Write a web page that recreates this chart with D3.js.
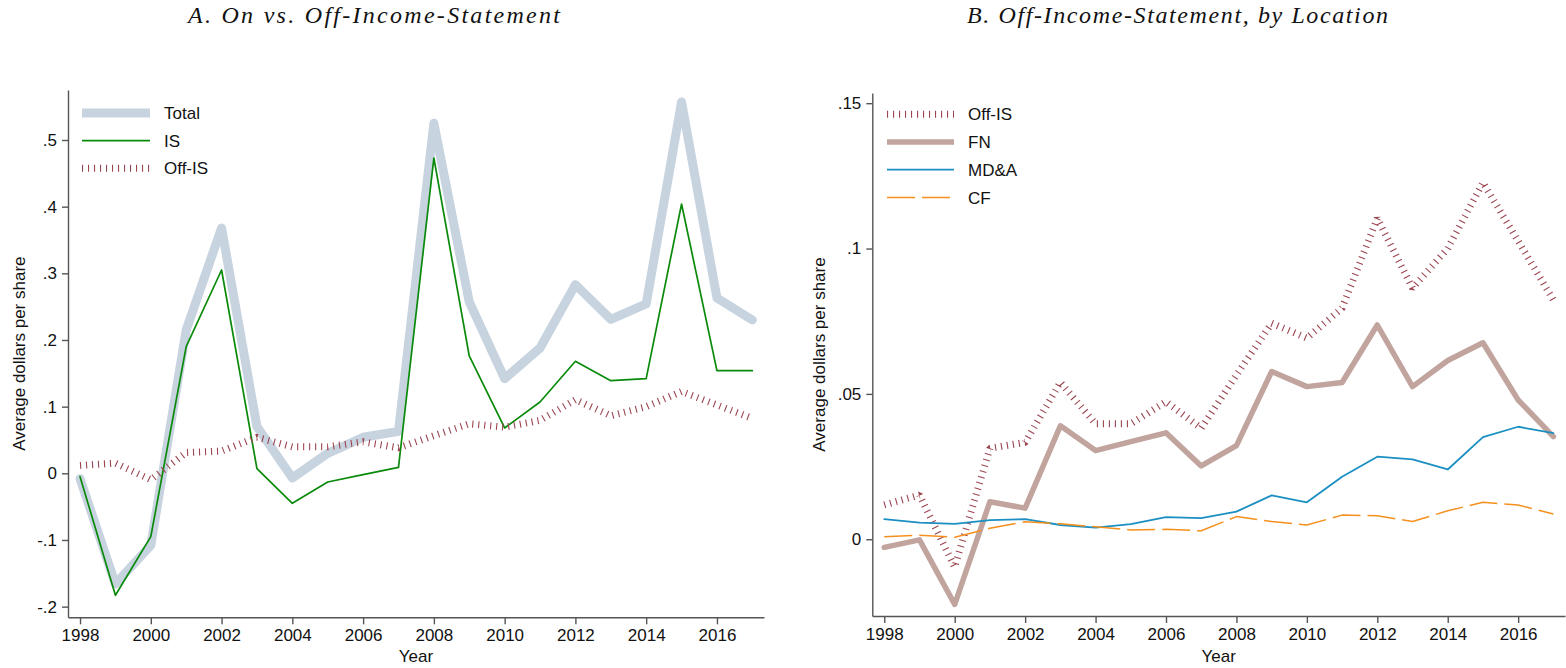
<!DOCTYPE html>
<html>
<head>
<meta charset="utf-8">
<script src="https://cdn.jsdelivr.net/npm/d3@7"></script>
<style>
  html, body { margin: 0; padding: 0; background: #fff; }
  svg { display: block; }
  .sans { font-family: "Liberation Sans", Arial, Helvetica, sans-serif; fill: #111; }
  .serif { font-family: "Liberation Serif", "Times New Roman", serif; font-style: italic; fill: #111; }
</style>
</head>
<body>
<svg id="chart" width="1566" height="668"></svg>
<script>
// ---------------- DATA ----------------
const years = [1998, 1999, 2000, 2001, 2002, 2003, 2004, 2005, 2006, 2007,
               2008, 2009, 2010, 2011, 2012, 2013, 2014, 2015, 2016, 2017];

// Panel A
const totalA = [-0.008, -0.166, -0.108, 0.215, 0.368, 0.070, -0.007, 0.030, 0.054, 0.063,
                0.525, 0.257, 0.142, 0.188, 0.283, 0.231, 0.254, 0.557, 0.263, 0.230];
const isA    = [-0.005, -0.183, -0.095, 0.190, 0.305, 0.007, -0.045, -0.013, -0.002, 0.009,
                0.473, 0.176, 0.068, 0.107, 0.168, 0.139, 0.142, 0.404, 0.154, 0.154];
// Off-IS (shared by both panels)
const offIS  = [0.0118, 0.0152, -0.0096, 0.0313, 0.0333, 0.0540, 0.0397, 0.0397, 0.0473, 0.0382,
                0.0565, 0.0743, 0.0692, 0.0795, 0.1104, 0.0864, 0.1000, 0.1227, 0.1026, 0.0823];
// Panel B
const fn     = [-0.0028, -0.0002, -0.0224, 0.0129, 0.0107, 0.0390, 0.0305, 0.0336, 0.0366, 0.0252,
                0.0322, 0.0577, 0.0525, 0.0539, 0.0737, 0.0525, 0.0615, 0.0676, 0.0479, 0.0353];
const mda    = [0.0069, 0.0057, 0.0053, 0.0066, 0.0069, 0.0049, 0.0040, 0.0052, 0.0076, 0.0073,
                0.0095, 0.0151, 0.0127, 0.0215, 0.0284, 0.0275, 0.0240, 0.0351, 0.0387, 0.0365];
const cf     = [0.0009, 0.0014, 0.0007, 0.0038, 0.0060, 0.0053, 0.0043, 0.0032, 0.0034, 0.0029,
                0.0078, 0.0061, 0.0049, 0.0083, 0.0081, 0.0061, 0.0098, 0.0127, 0.0118, 0.0087];

const xTicks = [1998, 2000, 2002, 2004, 2006, 2008, 2010, 2012, 2014, 2016];
const yTicksA = [-0.2, -0.1, 0, 0.1, 0.2, 0.3, 0.4, 0.5];
const yLabelsA = ["-.2", "-.1", "0", ".1", ".2", ".3", ".4", ".5"];
const yTicksB = [0, 0.05, 0.1, 0.15];
const yLabelsB = ["0", ".05", ".1", ".15"];

const titleA = "A. On vs. Off-Income-Statement";
const titleB = "B. Off-Income-Statement, by Location";
const xTitle = "Year";
const yTitle = "Average dollars per share";

// ---------------- STYLES ----------------
const styles = {
  total: { color: "#c7d3df", width: 9, dash: null, cap: "round" },
  is:    { color: "#0a8a0a", width: 1.7, dash: null, cap: "round" },
  offis: { color: "#9a4550", width: 7, dash: "1.1 4.9", cap: "butt" },
  fn:    { color: "#c0a49d", width: 5.5, dash: null, cap: "round" },
  mda:   { color: "#1b8fc2", width: 1.8, dash: null, cap: "round" },
  cf:    { color: "#f5901e", width: 1.5, dash: "28 7", cap: "butt" }
};

const svg = d3.select("#chart");

function drawPanel(cfg) {
  const g = svg.append("g");
  const x = d3.scaleLinear().domain([1997.66, 2017.33]).range([cfg.left, cfg.right]);
  const y = d3.scaleLinear().domain(cfg.yDomain).range([cfg.bottom, cfg.top]);

  // series
  cfg.series.forEach(s => {
    const st = styles[s.style];
    const line = d3.line().x((d, i) => x(years[i])).y(d => y(d));
    g.append("path")
      .datum(s.values)
      .attr("d", line)
      .attr("fill", "none")
      .attr("stroke", st.color)
      .attr("stroke-width", st.width)
      .attr("stroke-linejoin", st.dash ? "bevel" : "round")
      .attr("stroke-linecap", st.cap)
      .attr("stroke-dasharray", st.dash);
  });

  // axes
  const xAxis = d3.axisBottom(x).tickValues(xTicks).tickFormat(d3.format("d"))
      .tickSize(7).tickSizeOuter(0).tickPadding(5);
  const gx = g.append("g").attr("transform", `translate(0,${cfg.bottom})`).call(xAxis);
  const yAxis = d3.axisLeft(y).tickValues(cfg.yTicks)
      .tickFormat((d, i) => cfg.yLabels[i]).tickSize(6).tickSizeOuter(0).tickPadding(5);
  const gy = g.append("g").attr("transform", `translate(${cfg.left},0)`).call(yAxis);
  [gx, gy].forEach(ax => {
    ax.select(".domain").attr("stroke", "#555").attr("stroke-width", 1.4);
    ax.selectAll(".tick line").attr("stroke", "#555").attr("stroke-width", 1.4);
    ax.selectAll(".tick text").attr("class", "sans").attr("font-size", 17);
  });

  // axis titles
  g.append("text").attr("class", "sans").attr("x", (cfg.left + cfg.right) / 2).attr("y", 662)
    .attr("text-anchor", "middle").attr("font-size", 17).text(xTitle);
  g.append("text").attr("class", "sans")
    .attr("transform", `translate(${cfg.yTitleX},${(cfg.top + cfg.bottom) / 2}) rotate(-90)`)
    .attr("text-anchor", "middle").attr("font-size", 17).text(yTitle);

  // panel title
  g.append("text").attr("class", "serif").attr("x", cfg.titleX).attr("y", 23)
    .attr("font-size", 24)
    .attr("textLength", cfg.titleLen).attr("lengthAdjust", "spacing")
    .text(cfg.title);

  // legend
  cfg.series.forEach((s, i) => {
    const st = styles[s.style];
    const ly = cfg.legendY + i * cfg.legendStep;
    g.append("line")
      .attr("x1", cfg.legendX1).attr("x2", cfg.legendX2)
      .attr("y1", ly).attr("y2", ly)
      .attr("stroke", st.color).attr("stroke-width", st.width)
      .attr("stroke-dasharray", st.dash).attr("stroke-linecap", "butt");
    g.append("text").attr("class", "sans").attr("x", cfg.legendX2 + 14).attr("y", ly)
      .attr("dy", "0.36em").attr("font-size", 17).text(s.name);
  });
}

drawPanel({
  left: 68, right: 764, top: 90, bottom: 617.3,
  yDomain: [-0.216, 0.575], yTicks: yTicksA, yLabels: yLabelsA,
  yTitleX: 25, title: titleA, titleX: 188, titleLen: 372,
  legendX1: 82, legendX2: 150, legendY: 113, legendStep: 27.6,
  series: [
    { name: "Total", values: totalA, style: "total" },
    { name: "IS", values: isA, style: "is" },
    { name: "Off-IS", values: offIS, style: "offis" }
  ]
});

drawPanel({
  left: 872.3, right: 1565, top: 93, bottom: 616,
  yDomain: [-0.0264, 0.1535], yTicks: yTicksB, yLabels: yLabelsB,
  yTitleX: 825, title: titleB, titleX: 967, titleLen: 421,
  legendX1: 887, legendX2: 954, legendY: 114.3, legendStep: 27.7,
  series: [
    { name: "Off-IS", values: offIS, style: "offis" },
    { name: "FN", values: fn, style: "fn" },
    { name: "MD&A", values: mda, style: "mda" },
    { name: "CF", values: cf, style: "cf" }
  ]
});
</script>
</body>
</html>
